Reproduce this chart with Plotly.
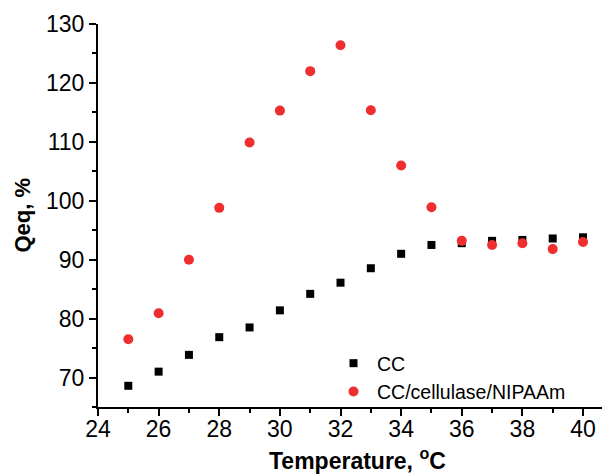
import plotly.graph_objects as go

temperature = [25, 26, 27, 28, 29, 30, 31, 32, 33, 34, 35, 36, 37, 38, 39, 40]
cc = [68.6, 71.0, 73.85, 76.85, 78.5, 81.4, 84.2, 86.1, 88.55, 91.0, 92.5, 92.8, 93.2, 93.35, 93.6, 93.8]
cc_cellulase_nipaam = [76.5, 80.9, 90.0, 98.8, 109.9, 115.3, 122.0, 126.4, 115.35, 106.0, 98.9, 93.2, 92.5, 92.8, 91.8, 93.0]

x_ticks = [24, 26, 28, 30, 32, 34, 36, 38, 40]
y_ticks = [70, 80, 90, 100, 110, 120, 130]

FONT = "Liberation Sans, Arial, sans-serif"
OFF = 8  # page body margin

fig = go.Figure()
fig.add_trace(go.Scatter(
    x=temperature, y=cc, mode="markers", name="CC",
    marker=dict(symbol="square", size=8, color="black", line=dict(width=0)),
))
fig.add_trace(go.Scatter(
    x=temperature, y=cc_cellulase_nipaam, mode="markers", name="CC/cellulase/NIPAAm",
    marker=dict(symbol="circle", size=10, color="#EE2E2F", line=dict(width=0)),
))

axis_common = dict(
    showline=True, linecolor="black", linewidth=2, mirror=False,
    ticks="outside", ticklen=7, tickwidth=2, tickcolor="black",
    showgrid=False, zeroline=False, automargin=False,
    tickfont=dict(family=FONT, size=23, color="black"),
)

fig.update_xaxes(
    range=[24, 40.89], tickvals=x_ticks, ticktext=[str(v) for v in x_ticks],
    minor=dict(ticks="outside", ticklen=4, tickwidth=2, tickcolor="black", dtick=1, tick0=24, showgrid=False),
    ticklabelstandoff=-7,
    **axis_common,
)
fig.update_yaxes(
    range=[65, 130], tickvals=y_ticks, ticktext=[str(v) for v in y_ticks],
    minor=dict(ticks="outside", ticklen=4, tickwidth=2, tickcolor="black", dtick=5, tick0=65, showgrid=False),
    **axis_common,
)

fig.add_annotation(
    text="<b>Qeq, %</b>", xref="paper", yref="paper",
    x=-(98 - 22) / 512, y=0.5, xanchor="center", yanchor="middle", textangle=-90,
    showarrow=False, font=dict(family=FONT, size=22, color="black"),
)
fig.add_annotation(
    text="<b>Temperature, <sup>o</sup>C</b>", xref="paper", yref="paper",
    x=(357 - 98) / 512, y=-(459 - 407) / 383, xanchor="center", yanchor="middle",
    showarrow=False, font=dict(family=FONT, size=23, color="black"),
)

fig.update_layout(
    width=610 - OFF, height=476 - OFF,
    margin=dict(l=98 - OFF, r=0, t=24 - OFF, b=69),
    paper_bgcolor="white", plot_bgcolor="white",
    showlegend=True,
    legend=dict(
        x=(330 - 98) / 512, y=(407 - 377.5) / 383, xanchor="left", yanchor="middle",
        bgcolor="rgba(0,0,0,0)", font=dict(family=FONT, size=19.5, color="black"),
        tracegroupgap=0, itemwidth=37,
    ),
)

fig.write_html("out.html")
